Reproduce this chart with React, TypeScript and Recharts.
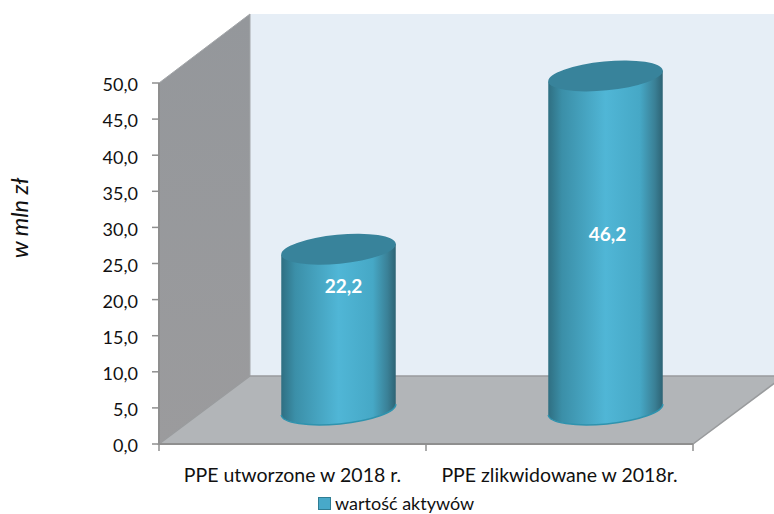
import { BarChart, Bar, XAxis, YAxis, Legend, LabelList, usePlotArea } from "recharts";

const categories = ["PPE utworzone w 2018 r.", "PPE zlikwidowane w 2018r."];
const values = [22.2, 46.2];
const yTicks = [0, 5, 10, 15, 20, 25, 30, 35, 40, 45, 50];
const seriesName = "wartość aktywów";
const unitLabel = "w mln zł";

const data = categories.map((category, i) => ({ category, value: values[i] }));

// depth of the fake 3D box
const DEPTH_X = 91;
const DEPTH_Y = 68;
const TILT = (5.5 * Math.PI) / 180;
const RY = 14.5;
const FONT = "Lato, 'Open Sans', sans-serif";
const AXIS_COLOR = "#8f8f8f";

const fmt = (v: number) => v.toFixed(1).replace(".", ",");

const Box = () => {
  const plot = usePlotArea();
  if (!plot) return null;
  const { x, y, width: w, height: h } = plot;
  const bottom = y + h;
  // category ticks fall between the bands, not on their centres
  const edges = [0, ...categories.map((_c, i) => i + 1)].map((i) => x + (i * w) / categories.length);
  return (
    <g>
      <polygon
        points={`${x + DEPTH_X},${y - DEPTH_Y - 1} ${x + DEPTH_X + w},${y - DEPTH_Y - 1} ${x + DEPTH_X + w},${bottom - DEPTH_Y} ${x + DEPTH_X},${bottom - DEPTH_Y}`}
        fill="#e6eef6"
      />
      <polygon
        points={`${x},${y} ${x + DEPTH_X},${y - DEPTH_Y - 1} ${x + DEPTH_X},${bottom - DEPTH_Y} ${x},${bottom}`}
        fill="url(#sideWall)"
        stroke="#a3a6a9"
        strokeWidth={1}
      />
      <polygon
        points={`${x},${bottom} ${x + DEPTH_X},${bottom - DEPTH_Y} ${x + DEPTH_X + w},${bottom - DEPTH_Y} ${x + w},${bottom}`}
        fill="#b2b5b8"
        stroke="#999b9d"
        strokeWidth={1.5}
      />
      <line x1={x} x2={x} y1={y} y2={bottom} stroke={AXIS_COLOR} strokeWidth={2} />
      {edges.map((ex) => (
        <line key={ex} x1={ex} x2={ex} y1={bottom} y2={bottom + 7} stroke={AXIS_COLOR} strokeWidth={1.5} />
      ))}
      <text
        x={19}
        y={218}
        transform="rotate(-90 19 218)"
        textAnchor="middle"
        dominantBaseline="central"
        fontFamily={FONT}
        fontStyle="italic"
        fontSize={23.5}
        fill="#111"
      >
        {unitLabel}
      </text>
    </g>
  );
};

const Cylinder = (props: any) => {
  const { x, y, width, height } = props;
  const cx = x + width / 2 + DEPTH_X / 2 + 0.5;
  const rx = width / 2;
  const top = y - DEPTH_Y / 2 - 0.5;
  const base = top + height;
  const ex = rx * Math.cos(TILT);
  const ey = rx * Math.sin(TILT);
  const deg = (-TILT * 180) / Math.PI;
  const body = `M${cx - ex},${top + ey} L${cx - ex},${base + ey} A${rx},${RY} ${deg} 0 0 ${cx + ex},${base - ey} L${cx + ex},${top - ey} Z`;
  return (
    <g>
      <path d={body} fill="url(#cylinderBody)" />
      <path
        d={`M${cx - ex},${base + ey} A${rx},${RY} ${deg} 0 0 ${cx + ex},${base - ey}`}
        fill="none"
        stroke="#2f93ae"
        strokeWidth={1.5}
      />
      <ellipse cx={cx} cy={top} rx={rx} ry={RY} fill="#38839b" transform={`rotate(${deg} ${cx} ${top})`} />
    </g>
  );
};

// value labels sit at different heights on each cylinder in the source
const labelShift = [
  { dx: 51, rise: 0.225 },
  { dx: 48, rise: 0.47 },
];

const ValueLabel = (props: any) => {
  const { x, y, width, height, value, index } = props;
  const shift = labelShift[index];
  const top = y - DEPTH_Y / 2;
  return (
    <text
      x={x + width / 2 + shift.dx}
      y={top + height * shift.rise}
      textAnchor="middle"
      dominantBaseline="central"
      fontFamily={FONT}
      fontWeight={700}
      fontSize={19}
      fill="#ffffff"
    >
      {fmt(Number(value))}
    </text>
  );
};

const LegendRow = () => (
  <div style={{ display: "flex", alignItems: "center", fontFamily: FONT, fontSize: 18, color: "#111" }}>
    <span
      style={{
        display: "inline-block",
        width: 11,
        height: 11,
        marginRight: 4,
        background: "#48a9c9",
        border: "1px solid #2f7d93",
      }}
    />
    {seriesName}
  </div>
);

export default function App() {
  return (
    <div style={{ position: "absolute", left: 0, top: 0 }}>
      <BarChart
        width={774}
        height={514}
        data={data}
        margin={{ top: 83, right: 81, left: 99, bottom: 18 }}
      >
        <defs>
          <linearGradient id="cylinderBody" x1="0" y1="0" x2="1" y2="0">
            <stop offset="0%" stopColor="#2f6f82" />
            <stop offset="12%" stopColor="#3b8fa8" />
            <stop offset="50%" stopColor="#50b6d6" />
            <stop offset="80%" stopColor="#46a8c6" />
            <stop offset="93%" stopColor="#3a8096" />
            <stop offset="100%" stopColor="#2d6374" />
          </linearGradient>
          <linearGradient id="sideWall" x1="0" y1="0" x2="0" y2="1">
            <stop offset="0%" stopColor="#94979b" />
            <stop offset="100%" stopColor="#9b9b9d" />
          </linearGradient>
        </defs>
        <Box />
        <XAxis
          dataKey="category"
          height={30}
          interval={0}
          tickLine={false}
          tickMargin={18}
          axisLine={{ stroke: AXIS_COLOR, strokeWidth: 2 }}
          tick={{ fill: "#111", fontFamily: FONT, fontSize: 19.5 }}
        />
        <YAxis
          width={60}
          domain={[0, 50]}
          ticks={yTicks}
          tickFormatter={fmt}
          tickSize={7}
          tickMargin={14}
          axisLine={false}
          tickLine={{ stroke: AXIS_COLOR, strokeWidth: 1.5 }}
          tick={{ fill: "#111", fontFamily: FONT, fontSize: 18, dy: 2 }}
        />
        <Legend
          verticalAlign="bottom"
          align="left"
          content={LegendRow}
          wrapperStyle={{ left: 318, bottom: 0, width: "auto" }}
        />
        <Bar
          dataKey="value"
          name={seriesName}
          fill="#48a9c9"
          barSize={115}
          shape={Cylinder}
          isAnimationActive={false}
        >
          <LabelList dataKey="value" content={ValueLabel} />
        </Bar>
      </BarChart>
    </div>
  );
}
